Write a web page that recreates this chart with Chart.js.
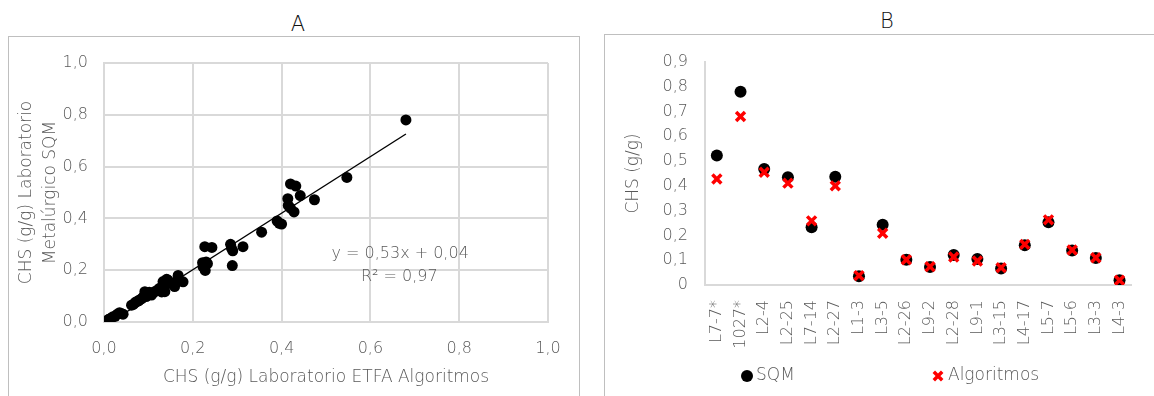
<!DOCTYPE html>
<html><head><meta charset="utf-8">
<script src="https://cdn.jsdelivr.net/npm/chart.js@4.4.1/dist/chart.umd.min.js"></script>
<style>
html,body{margin:0;padding:0;background:#fff;width:1154px;height:396px;overflow:hidden;position:relative;}
.box{position:absolute;border:1px solid #bfbfbf;}
#boxA{left:8px;top:36px;width:570px;height:420px;}
#boxB{left:604px;top:34px;width:620px;height:420px;}
.ttl{position:absolute;font-family:'DejaVu Sans',sans-serif;font-size:21px;font-weight:200;color:#111;transform:translate(-50%,-50%);line-height:1;}
canvas{position:absolute;top:0;}
#cA{left:0;}
#cB{left:590px;}
</style></head><body>
<div class="box" id="boxA"></div><div class="box" id="boxB"></div>
<div class="ttl" style="left:298px;top:24px">A</div>
<div class="ttl" style="left:887px;top:21px">B</div>
<canvas id="cA" width="580" height="396"></canvas>
<canvas id="cB" width="564" height="396"></canvas>
<script>
// ---- Panel A data (x: Laboratorio ETFA Algoritmos, y: Laboratorio Metalúrgico SQM)
const etfaAlg = [
 0.010,0.013,0.016,0.020,0.025,0.030,0.035,0.040,0.043,
 0.062,0.066,0.070,0.073,0.078,0.080,0.085,0.088,0.092,0.095,0.098,0.102,0.107,0.110,0.114,0.118,0.122,0.125,0.130,0.133,0.137,0.137,0.141,0.144,0.149,0.155,0.159,0.165,0.167,0.178,
 0.222,0.223,0.227,0.228,0.230,0.233,0.243,
 0.285,0.287,0.289,0.290,0.313,0.355,
 0.390,0.395,0.400,0.414,0.415,0.420,0.420,0.428,0.432,0.442,0.474,0.547,0.680];
const sqmLab = [
 0.010,0.012,0.015,0.020,0.022,0.030,0.036,0.032,0.030,
 0.065,0.068,0.075,0.078,0.082,0.085,0.090,0.096,0.117,0.098,0.108,0.115,0.104,0.112,0.117,0.120,0.125,0.130,0.116,0.156,0.117,0.140,0.165,0.162,0.150,0.150,0.137,0.160,0.180,0.155,
 0.229,0.213,0.291,0.199,0.232,0.225,0.288,
 0.300,0.285,0.218,0.275,0.291,0.347,
 0.390,0.381,0.378,0.476,0.450,0.533,0.440,0.425,0.525,0.488,0.472,0.558,0.780];
const trendX = [0.015, 0.680];
const trendY = [0.000, 0.726];
const eqLines = ['y = 0,53x + 0,04', 'R² = 0,97'];
const eqAnchorX = [0.667, 0.665];
const eqAnchorY = [0.263, 0.174];
const axisTitleAX = 'CHS (g/g) Laboratorio ETFA Algoritmos';
const axisTitleAY = ['CHS (g/g) Laboratorio', 'Metalúrgico SQM'];

// ---- Panel B data
const sampleIds = ['L7-7*','1027*','L2-4','L2-25','L7-14','L2-27','L1-3','L3-5','L2-26','L9-2','L2-28','L9-1','L3-15','L4-17','L5-7','L5-6','L3-3','L4-3'];
const sqmValues = [0.523,0.780,0.468,0.435,0.233,0.437,0.035,0.243,0.102,0.073,0.121,0.105,0.067,0.160,0.253,0.139,0.109,0.019];
const algValues = [0.428,0.680,0.455,0.411,0.259,0.400,0.038,0.209,0.102,0.074,0.113,0.097,0.070,0.164,0.263,0.141,0.110,0.019];
const seriesNames = ['SQM', 'Algoritmos'];
const axisTitleBY = 'CHS (g/g)';

const FAMILY = "'DejaVu Sans', sans-serif";
const W = '200';
const GREY = '#595959';
const GRID = '#d9d9d9';
Chart.defaults.font.family = FAMILY;
Chart.defaults.font.weight = W;
Chart.defaults.color = GREY;

const comma1 = v => Number(v).toFixed(1).replace('.', ',');

const eqPlugin = {
  id: 'eqText',
  afterDatasetsDraw(chart) {
    const {ctx, scales: {x, y}} = chart;
    ctx.save();
    ctx.font = W + ' 16px ' + FAMILY;
    ctx.fillStyle = GREY;
    ctx.textAlign = 'center';
    ctx.textBaseline = 'middle';
    eqLines.forEach((t, i) => ctx.fillText(t, x.getPixelForValue(eqAnchorX[i]), y.getPixelForValue(eqAnchorY[i])));
    ctx.restore();
  }
};

new Chart(document.getElementById('cA'), {
  type: 'scatter',
  data: {
    datasets: [
      {label: 'Datos', data: etfaAlg.map((x, i) => ({x, y: sqmLab[i]})),
       backgroundColor: '#000', borderWidth: 0, pointRadius: 5.5, pointHoverRadius: 5.5, order: 1},
      {type: 'line', label: 'Lineal', data: trendX.map((x, i) => ({x, y: trendY[i]})),
       borderColor: '#000', borderWidth: 1.4, pointRadius: 0, showLine: true, fill: false, order: 0}
    ]
  },
  options: {
    responsive: false, animation: false, events: [],
    layout: {padding: {top: 63, right: 32, bottom: 0, left: 0}},
    plugins: {legend: {display: false}, tooltip: {enabled: false}},
    scales: {
      x: {type: 'linear', min: 0, max: 1,
          ticks: {stepSize: 0.2, callback: comma1, font: {size: 16}, color: GREY, padding: 17},
          grid: {color: GRID, lineWidth: 2, drawTicks: false},
          border: {color: GRID, width: 2},
          title: {display: true, text: axisTitleAX, font: {size: 17}, color: GREY, padding: {top: 0, bottom: 8}},
          afterFit: s => { s.height = 74; }},
      y: {type: 'linear', min: 0, max: 1,
          ticks: {stepSize: 0.2, callback: comma1, font: {size: 16}, color: GREY, padding: 16},
          grid: {color: GRID, lineWidth: 2, drawTicks: false},
          border: {color: GRID, width: 2},
          title: {display: true, text: axisTitleAY, font: {size: 17, lineHeight: 1.4}, color: GREY, padding: {top: 15, bottom: 0}},
          afterFit: s => { s.width = 104; }}
    }
  },
  plugins: [eqPlugin]
});

const legendB = {
  id: 'legendB',
  afterDraw(chart) {
    const ctx = chart.ctx;
    const spots = [[157, 166], [348, 358]];
    const yy = 376;
    ctx.save();
    chart.data.datasets.forEach((ds, i) => {
      const mx = spots[i][0];
      if (ds.pointStyle === 'circle') {
        ctx.fillStyle = ds.backgroundColor;
        ctx.beginPath(); ctx.arc(mx, yy, 6, 0, Math.PI * 2); ctx.fill();
      } else {
        ctx.strokeStyle = ds.borderColor; ctx.lineWidth = 3.5;
        const r = 4.2;
        ctx.beginPath();
        ctx.moveTo(mx - r, yy - r); ctx.lineTo(mx + r, yy + r);
        ctx.moveTo(mx - r, yy + r); ctx.lineTo(mx + r, yy - r);
        ctx.stroke();
      }
      ctx.font = W + ' 17px ' + FAMILY;
      ctx.fillStyle = GREY; ctx.textAlign = 'left'; ctx.textBaseline = 'middle';
      ctx.fillText(ds.label, spots[i][1], yy);
    });
    ctx.restore();
  }
};

new Chart(document.getElementById('cB'), {
  type: 'line',
  data: {
    labels: sampleIds,
    datasets: [
      {label: seriesNames[0], data: sqmValues, showLine: false, pointStyle: 'circle',
       backgroundColor: '#000', borderColor: '#000', borderWidth: 0, pointRadius: 6, pointHoverRadius: 6, order: 1},
      {label: seriesNames[1], data: algValues, showLine: false, pointStyle: 'crossRot',
       backgroundColor: '#ff0000', borderColor: '#ff0000', borderWidth: 3.5, pointRadius: 6.3, pointHoverRadius: 6.3, pointBorderWidth: 3.5, order: 0}
    ]
  },
  options: {
    responsive: false, animation: false, events: [],
    layout: {padding: {top: 62, right: 6, bottom: 0, left: 0}},
    plugins: {legend: {display: false}, tooltip: {enabled: false}},
    scales: {
      x: {type: 'category', offset: true,
          ticks: {minRotation: 90, maxRotation: 90, autoSkip: false, font: {size: 16}, color: GREY, padding: 15},
          grid: {display: false, drawTicks: false},
          border: {color: GRID, width: 2},
          afterFit: s => { s.height = 111; }},
      y: {type: 'linear', min: 0, max: 0.9,
          ticks: {stepSize: 0.1, callback: v => (Math.abs(v) < 1e-9 ? '0' : comma1(v)), font: {size: 16}, color: GREY, padding: 17},
          grid: {display: false, drawTicks: false},
          border: {color: GRID, width: 2},
          title: {display: true, text: axisTitleBY, font: {size: 17}, color: GREY, padding: {top: 33, bottom: 0}},
          afterFit: s => { s.width = 115; }}
    }
  },
  plugins: [legendB]
});
</script>
</body></html>
